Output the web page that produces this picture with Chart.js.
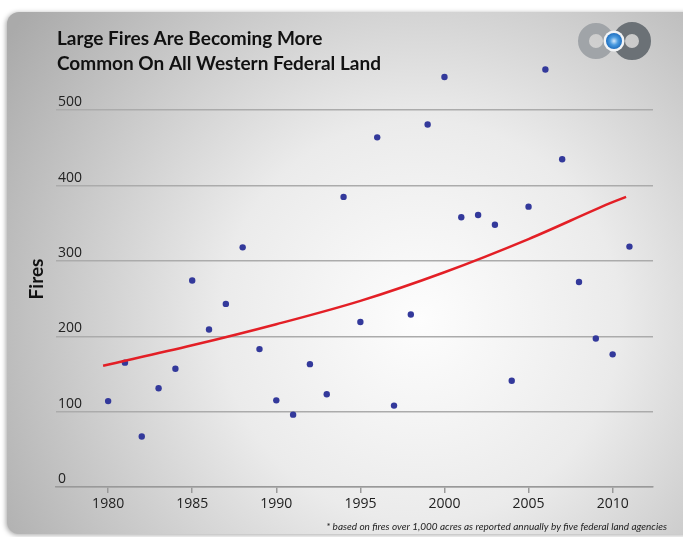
<!DOCTYPE html>
<html>
<head>
<meta charset="utf-8">
<script src="https://cdn.jsdelivr.net/npm/chart.js@4.4.0/dist/chart.umd.min.js"></script>
<style>
html, body { margin: 0; padding: 0; background: #fff; }
</style>
</head>
<body>
<canvas id="incendios__grafico" width="683" height="537"></canvas>
<script>
// datos
const anios = [1980, 1981, 1982, 1983, 1984, 1985, 1986, 1987, 1988, 1989,
               1990, 1991, 1992, 1993, 1994, 1995, 1996, 1997, 1998, 1999,
               2000, 2001, 2002, 2003, 2004, 2005, 2006, 2007, 2008, 2009,
               2010, 2011]
const incendios = [114, 165, 67, 131, 157, 274, 209, 243, 318, 183,
                   115, 96, 163, 123, 385, 219, 464, 108, 229, 481,
                   544, 358, 361, 348, 141, 372, 554, 435, 272, 197,
                   176, 319]
const tendenciaAnios = [1979.7, 1985, 1990, 1995, 2000, 2005, 2010, 2010.8]
const tendenciaValores = [161, 188, 216, 247, 285, 329, 378, 385]

const ticksIncendios = [0, 100, 200, 300, 400, 500]
const ticksAnios = [1980, 1985, 1990, 1995, 2000, 2005, 2010]

const titulo = ['Large Fires Are Becoming More', 'Common On All Western Federal Land']
const tituloEje = 'Fires'
const notaPie = '* based on fires over 1,000 acres as reported annually by five federal land agencies'

const fondo = {
    id: 'fondo',
    beforeDraw(chart) {
        const ctx = chart.ctx
        ctx.save()
        ctx.fillStyle = '#fff'
        ctx.fillRect(0, 0, chart.width, chart.height)
        ctx.shadowColor = 'rgba(0,0,0,0.35)'
        ctx.shadowBlur = 5
        ctx.shadowOffsetX = -1
        ctx.shadowOffsetY = 1
        const g = ctx.createRadialGradient(420, 320, 0, 420, 320, 500)
        g.addColorStop(0, '#fdfdfd')
        g.addColorStop(0.4, '#ebebeb')
        g.addColorStop(1, '#aaaaaa')
        ctx.fillStyle = g
        ctx.beginPath()
        ctx.roundRect(7, 12, 690, 522, 12)
        ctx.fill()
        ctx.restore()
    }
}

const textos = {
    id: 'textos',
    afterDraw(chart) {
        const ctx = chart.ctx
        ctx.save()
        // logo
        ctx.lineWidth = 11
        ctx.strokeStyle = '#a0a4a8'
        ctx.beginPath()
        ctx.arc(596, 41, 12.5, 0, Math.PI * 2)
        ctx.stroke()
        ctx.lineWidth = 12
        ctx.strokeStyle = '#6b7176'
        ctx.beginPath()
        ctx.arc(632, 41, 13, 0, Math.PI * 2)
        ctx.stroke()
        ctx.fillStyle = '#f2f4f6'
        ctx.beginPath()
        ctx.arc(614, 41, 10.5, 0, Math.PI * 2)
        ctx.fill()
        const b = ctx.createRadialGradient(614, 41, 0, 614, 41, 8)
        b.addColorStop(0, '#d6eafc')
        b.addColorStop(0.5, '#4a9be0')
        b.addColorStop(1, '#1f6fc0')
        ctx.fillStyle = b
        ctx.beginPath()
        ctx.arc(614, 41, 8, 0, Math.PI * 2)
        ctx.fill()

        // titulo
        ctx.fillStyle = '#111'
        ctx.textAlign = 'left'
        ctx.textBaseline = 'alphabetic'
        ctx.font = 'bold 19px Lato'
        ctx.fillText(titulo[0], 57, 45)
        ctx.fillText(titulo[1], 57, 70)

        // eje y
        ctx.save()
        ctx.translate(43, 279)
        ctx.rotate(-Math.PI / 2)
        ctx.textAlign = 'center'
        ctx.font = 'bold 19px Lato'
        ctx.fillText(tituloEje, 0, 0)
        ctx.restore()

        // nota
        ctx.fillStyle = '#222'
        ctx.textAlign = 'right'
        ctx.font = 'italic 10px Lato'
        ctx.fillText(notaPie, 667, 530)
        ctx.restore()
    }
}

const ctxIncendios = document.getElementById('incendios__grafico').getContext('2d')
const incendiosChart = new Chart(ctxIncendios, {
    type: 'scatter',
    data: {
        datasets: [{
            label: 'Tendencia',
            data: tendenciaAnios.map((a, i) => ({ x: a, y: tendenciaValores[i] })),
            showLine: true,
            borderColor: '#e31f26',
            borderWidth: 2.5,
            pointRadius: 0,
            tension: 0.4,
            cubicInterpolationMode: 'monotone'
        }, {
            label: 'Fires',
            data: anios.map((a, i) => ({ x: a, y: incendios[i] })),
            backgroundColor: '#33399b',
            borderWidth: 0,
            pointRadius: 3.2
        }]
    },
    options: {
        responsive: false,
        animation: false,
        layout: { padding: { left: 0, right: 30, top: 65, bottom: 23 } },
        plugins: {
            legend: { display: false },
            tooltip: { enabled: false }
        },
        scales: {
            x: {
                type: 'linear',
                min: 1976.9,
                max: 2012.4,
                afterBuildTicks: (axis) => { axis.ticks = ticksAnios.map(v => ({ value: v })) },
                afterFit: (scale) => { scale.height = 27 },
                grid: { display: true, drawOnChartArea: false, tickLength: 6, color: '#999', lineWidth: 1.5 },
                border: { display: true, color: '#999', width: 1.5 },
                ticks: {
                    callback: (v) => String(v),
                    font: { family: 'Open Sans', size: 14 },
                    color: '#222',
                    padding: 3,
                    maxRotation: 0
                }
            },
            y: {
                min: 0,
                max: 560,
                afterBuildTicks: (axis) => { axis.ticks = ticksIncendios.map(v => ({ value: v })) },
                afterFit: (scale) => { scale.width = 56 },
                grid: { color: '#ababab', lineWidth: 1.5, drawTicks: false },
                border: { display: false },
                ticks: {
                    mirror: true,
                    padding: 2,
                    labelOffset: -8,
                    font: { family: 'Open Sans', size: 14 },
                    color: '#222'
                }
            }
        }
    },
    plugins: [fondo, textos]
})
</script>
</body>
</html>
